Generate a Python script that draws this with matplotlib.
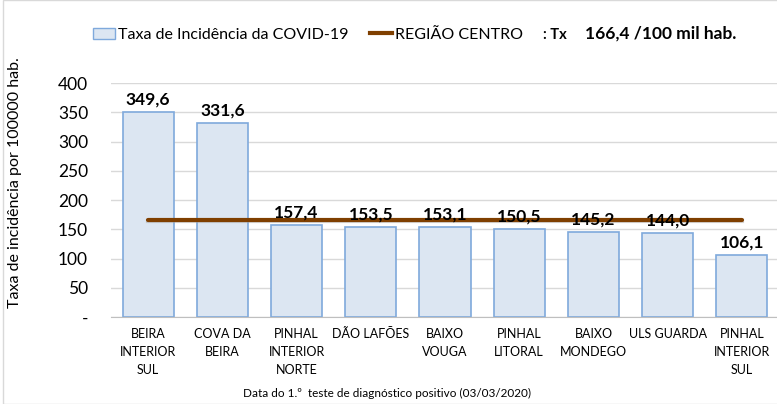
import matplotlib
matplotlib.use("Agg")
import matplotlib.pyplot as plt
from matplotlib.patches import Patch
from matplotlib.lines import Line2D

# ---------------------------------------------------------------------------
# Data
# ---------------------------------------------------------------------------
categories = [
    "BEIRA\nINTERIOR\nSUL", "COVA DA\nBEIRA", "PINHAL\nINTERIOR\nNORTE",
    "DÃO LAFÕES", "BAIXO\nVOUGA", "PINHAL\nLITORAL", "BAIXO\nMONDEGO",
    "ULS GUARDA", "PINHAL\nINTERIOR\nSUL",
]
incidence = [349.6, 331.6, 157.4, 153.5, 153.1, 150.5, 145.2, 144.0, 106.1]
region_rate = 166.4
y_ticks = [0, 50, 100, 150, 200, 250, 300, 350, 400]
y_ticklabels = ["-", "50", "100", "150", "200", "250", "300", "350", "400"]

BAR_FILL = "#dce6f2"
BAR_EDGE = "#7fa9dc"
LINE_COL = "#7f3f00"

plt.rcParams["font.family"] = ["Lato", "DejaVu Sans"]

fig = plt.figure(figsize=(7.77, 4.04), dpi=100)
ax = fig.add_axes([111 / 777, 1 - 317 / 404, 668 / 777, 234 / 404])

x = list(range(len(categories)))
ax.bar(x, incidence, width=0.69, color=BAR_FILL, edgecolor=BAR_EDGE,
       linewidth=1.2, zorder=2)
# soft shadow under the regional line
ax.plot([x[0], x[-1]], [region_rate - 3, region_rate - 3], color="#aaaaaa",
        linewidth=3, zorder=3, alpha=0.5)
ax.plot([x[0], x[-1]], [region_rate, region_rate], color=LINE_COL,
        linewidth=3, zorder=4, solid_capstyle="round")

for xi, v in zip(x, incidence):
    ax.text(xi, v + 8, f"{v:.1f}".replace(".", ","), ha="center", va="bottom",
            fontsize=12.5, fontweight="bold", zorder=5)

ax.set_xlim(-0.5, len(categories) - 0.5)
ax.set_ylim(0, 400)
ax.set_yticks(y_ticks)
ax.set_yticklabels(y_ticklabels, fontsize=12.5)
ax.set_xticks(x)
ax.set_xticklabels(categories, fontsize=9, linespacing=1.6, va="top")
ax.tick_params(axis="both", length=0)
ax.tick_params(axis="x", pad=8)
ax.tick_params(axis="y", pad=16.5)
ax.grid(axis="y", color="#d9d9d9", linewidth=1, zorder=0)
for side in ["top", "right", "left"]:
    ax.spines[side].set_visible(False)
ax.spines["bottom"].set_color("#bfbfbf")

fig.text(15 / 777, 1 - 183 / 404, "Taxa de incidência por 100000 hab.",
         rotation=90, ha="center", va="center", fontsize=11.5)
fig.text(387 / 777, 1 - 393 / 404,
         "Data do 1.º  teste de diagnóstico positivo (03/03/2020)",
         ha="center", va="center", fontsize=8.5)

handles = [
    Patch(facecolor=BAR_FILL, edgecolor=BAR_EDGE, label="Taxa de Incidência da COVID-19"),
    Line2D([0], [0], color=LINE_COL, linewidth=3, label="REGIÃO CENTRO"),
]
fig.legend(handles=handles, loc="center", bbox_to_anchor=(308 / 777, 1 - 35 / 404),
           ncol=2, frameon=False, fontsize=11.5, handlelength=1.4,
           handletextpad=0.2, columnspacing=1.3)
fig.text(543 / 777, 1 - 35 / 404, ": Tx", ha="left", va="center",
         fontsize=10.5, fontweight="bold")
fig.text(585 / 777, 1 - 34 / 404, "166,4 /100 mil hab.", ha="left",
         va="center", fontsize=12.5, fontweight="bold")

# thin outer border like the chart area frame
fig.patches.append(plt.Rectangle((3 / 777, 0), 1, 1, transform=fig.transFigure,
                                 fill=False, edgecolor="#d9d9d9", linewidth=1))

fig.savefig("out.png", dpi=100, facecolor="white")
